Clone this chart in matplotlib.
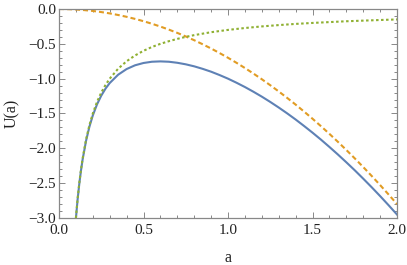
import matplotlib
matplotlib.use("Agg")
import matplotlib.pyplot as plt
from matplotlib.ticker import MultipleLocator

# values
a_total = [0.10, 0.11, 0.12, 0.13, 0.14, 0.16, 0.18, 0.20, 0.225, 0.25, 0.275, 0.30, 0.35, 0.40, 0.45,
           0.50, 0.55, 0.60, 0.65, 0.70, 0.75, 0.80, 0.85, 0.90, 0.95, 1.00, 1.05, 1.10, 1.15, 1.20,
           1.25, 1.30, 1.35, 1.40, 1.45, 1.50, 1.55, 1.60, 1.65, 1.70, 1.75, 1.80, 1.85, 1.90, 1.95, 2.00]
u_total = [-3.007, -2.736, -2.510, -2.320, -2.157, -1.893, -1.689, -1.528, -1.369, -1.244, -1.144,
           -1.063, -0.943, -0.862, -0.808, -0.775, -0.757, -0.752, -0.757, -0.772, -0.794, -0.823,
           -0.859, -0.900, -0.948, -1.000, -1.058, -1.120, -1.187, -1.258, -1.334, -1.414, -1.498,
           -1.586, -1.679, -1.775, -1.875, -1.980, -2.088, -2.200, -2.315, -2.435, -2.558, -2.685,
           -2.816, -2.950]

a_quad = [0.00, 0.05, 0.10, 0.15, 0.20, 0.25, 0.30, 0.35, 0.40, 0.45, 0.50, 0.55, 0.60, 0.65, 0.70,
          0.75, 0.80, 0.85, 0.90, 0.95, 1.00, 1.05, 1.10, 1.15, 1.20, 1.25, 1.30, 1.35, 1.40, 1.45,
          1.50, 1.55, 1.60, 1.65, 1.70, 1.75, 1.80, 1.85, 1.90, 1.95, 2.00]
u_quad = [0.0, -0.002, -0.007, -0.016, -0.028, -0.044, -0.063, -0.086, -0.112, -0.142, -0.175,
          -0.212, -0.252, -0.296, -0.343, -0.394, -0.448, -0.506, -0.567, -0.632, -0.700, -0.772,
          -0.847, -0.926, -1.008, -1.094, -1.183, -1.276, -1.372, -1.472, -1.575, -1.682, -1.792,
          -1.906, -2.023, -2.144, -2.268, -2.396, -2.527, -2.662, -2.800]

a_inv = [0.10, 0.11, 0.12, 0.13, 0.14, 0.16, 0.18, 0.20, 0.225, 0.25, 0.275, 0.30, 0.35, 0.40, 0.45,
         0.50, 0.55, 0.60, 0.65, 0.70, 0.75, 0.80, 0.90, 1.00, 1.10, 1.20, 1.30, 1.40, 1.50, 1.60,
         1.70, 1.80, 1.90, 2.00]
u_inv = [-3.000, -2.727, -2.500, -2.308, -2.143, -1.875, -1.667, -1.500, -1.333, -1.200, -1.091,
         -1.000, -0.857, -0.750, -0.667, -0.600, -0.545, -0.500, -0.462, -0.429, -0.400, -0.375,
         -0.333, -0.300, -0.273, -0.250, -0.231, -0.214, -0.200, -0.188, -0.176, -0.167, -0.158,
         -0.150]

x_ticks = [0.0, 0.5, 1.0, 1.5, 2.0]
y_ticks = [0.0, -0.5, -1.0, -1.5, -2.0, -2.5, -3.0]

plt.rcParams['font.family'] = ['Liberation Serif', 'DejaVu Serif']

fig = plt.figure(figsize=(4.07, 2.65), dpi=100)
ax = fig.add_axes([59/407, 1 - 218/265, (397-59)/407, (218-9)/265])

blue = '#5E81B5'
orange = '#E19C24'
green = '#8FB032'

ax.plot(a_total, u_total, color=blue, lw=1.5)
ax.plot(a_quad, u_quad, color=orange, lw=1.5, dashes=(2.4, 1.45))
ax.plot(a_inv, u_inv, color=green, lw=1.5, dashes=(1.2, 1.2))

ax.set_xlim(0, 2)
ax.set_ylim(-3, 0)
ax.set_xticks(x_ticks)
ax.set_yticks(y_ticks)
ax.set_xticklabels(['%.1f' % v for v in x_ticks])
ax.set_yticklabels([('\u2212%.1f' % -v) if v < 0 else '%.1f' % v for v in y_ticks])
ax.xaxis.set_minor_locator(MultipleLocator(0.1))
ax.yaxis.set_minor_locator(MultipleLocator(0.1))

frame_col = '#888888'
for s in ax.spines.values():
    s.set_color(frame_col)
    s.set_linewidth(0.9)
ax.tick_params(which='both', direction='in', top=True, right=True, color=frame_col, width=0.7,
               labelsize=11, labelcolor='#222222')
ax.tick_params(axis='x', which='both', pad=4)
ax.tick_params(axis='y', which='both', pad=2)
ax.tick_params(which='major', length=4)
ax.tick_params(which='minor', length=2)

ax.set_xlabel('a', fontsize=11.5, color='#222222', labelpad=10)
ax.set_ylabel('U(a)', fontsize=11.5, color='#222222', labelpad=6)

fig.savefig('out.png', dpi=100)
